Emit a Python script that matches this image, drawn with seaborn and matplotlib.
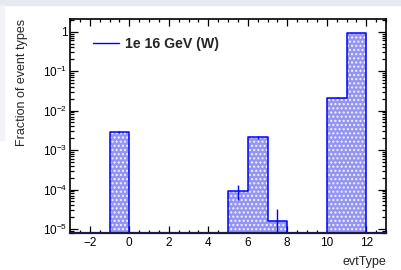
import numpy as np
import pandas as pd
import matplotlib
matplotlib.use("Agg")
import matplotlib.pyplot as plt
import seaborn as sns
from matplotlib.lines import Line2D
from matplotlib.patches import Rectangle
from matplotlib.ticker import FixedLocator, MultipleLocator, LogLocator, FuncFormatter, NullFormatter

# ---- data ----
bin_low = [-1, 5, 6, 7, 10, 11]
fractions = [2.9e-3, 9.3e-5, 2.1e-3, 1.6e-5, 2.1e-2, 0.94]
errors = [2.2e-4, 3.8e-5, 1.8e-4, 1.6e-5, 6e-4, 4e-3]
bin_edges = list(range(-3, 14))
series_label = "1e 16 GeV (W)"
x_label = "evtType"
y_label = "Fraction of event types"
x_ticks = [-2, 0, 2, 4, 6, 8, 10, 12]

sns.set_style("ticks")
plt.rcParams["font.family"] = ["Liberation Sans", "DejaVu Sans"]
plt.rcParams["mathtext.default"] = "regular"
plt.rcParams["hatch.linewidth"] = 1.0

df = pd.DataFrame({"evtType": np.array(bin_low) + 0.5, "frac": fractions})

fig = plt.figure(figsize=(4.02, 2.70), dpi=100)
fig.patch.set_facecolor("white")
# page border strips
fig.patches.append(Rectangle((0, 1 - 5 / 270), 1, 5 / 270, transform=fig.transFigure,
                             color="#e6eaf0", zorder=0))
fig.patches.append(Rectangle((0, 130 / 270), 4 / 402, 135 / 270, transform=fig.transFigure,
                             color="#f1f3f7", zorder=0))

ax = fig.add_axes([70 / 402, 1 - 233 / 270, 316 / 402, 214 / 270])

# filled histogram
sns.histplot(data=df, x="evtType", weights="frac", bins=bin_edges, element="step",
             fill=True, color="#0000ff", facecolor="#9494f2", edgecolor="none",
             linewidth=0, alpha=1, ax=ax)
# dotted texture overlay
sns.histplot(data=df, x="evtType", weights="frac", bins=bin_edges, element="step",
             fill=True, color="white", facecolor="none", edgecolor="#f4f4ff",
             linewidth=0, hatch="....", alpha=1, ax=ax)
# outline
sns.histplot(data=df, x="evtType", weights="frac", bins=bin_edges, element="step",
             fill=True, color="#0000ff", facecolor="none", edgecolor="#0000ff",
             linewidth=1.1, alpha=1, ax=ax)
ax.errorbar(df["evtType"], df["frac"], yerr=errors, fmt="none", ecolor="#0000ff",
            elinewidth=1.0, capsize=0, zorder=5)

ax.set_yscale("log")
ax.set_xlim(-3, 13)
ax.set_ylim(7.9e-6, 2.1)

ax.xaxis.set_major_locator(FixedLocator(x_ticks))
ax.xaxis.set_minor_locator(MultipleLocator(0.5))
ax.yaxis.set_major_locator(LogLocator(base=10, numticks=20))
ax.yaxis.set_minor_locator(LogLocator(base=10, subs=np.arange(2, 10), numticks=20))
ax.yaxis.set_minor_formatter(NullFormatter())


def fmt_y(v, pos):
    e = int(round(np.log10(v)))
    if e == 0:
        return "1"
    return r"$10^{%d}$" % e


ax.yaxis.set_major_formatter(FuncFormatter(fmt_y))
ax.xaxis.set_major_formatter(FuncFormatter(lambda v, p: ("%d" % v).replace("-", "\u2212")))

ax.tick_params(axis="both", which="both", direction="in", top=True, right=True,
               colors="black", labelsize=8.5, width=0.9)
ax.tick_params(axis="x", which="major", length=5.0, pad=3)
ax.tick_params(axis="x", which="minor", length=2.5)
ax.tick_params(axis="y", which="major", length=5.8, pad=2)
ax.tick_params(axis="y", which="minor", length=2.9)

for s in ax.spines.values():
    s.set_linewidth(1.2)
    s.set_color("black")
ax.spines["bottom"].set_color("#1a1a4a")
ax.spines["bottom"].set_linewidth(1.6)

ax.set_xlabel("")
ax.set_ylabel("")
fig.text(386 / 402, 1 - 262 / 270, x_label, ha="right", va="center", fontsize=9)
fig.text(22 / 402, 1 - 19 / 270, y_label, ha="center", va="top", rotation=90, fontsize=9)

handle = Line2D([], [], color="#0000ff", lw=1.0)
leg = ax.legend([handle], [series_label], loc="center left",
                bbox_to_anchor=(0.074, 0.883), frameon=False, borderpad=0,
                borderaxespad=0, handlelength=1.8, handletextpad=0.4,
                prop={"weight": "bold", "size": 10.2})

fig.savefig("out.png", dpi=100)
